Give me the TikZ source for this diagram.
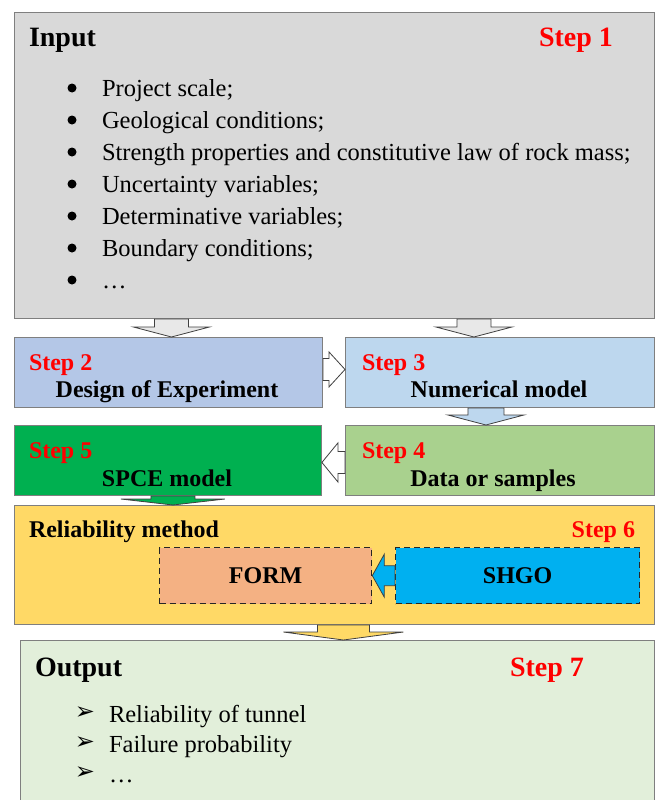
\documentclass[tikz,border=0pt]{standalone}
\usepackage{fontspec}
\setmainfont{Liberation Serif}
\newfontfamily\symfont{DejaVu Sans}
\usetikzlibrary{calc}
\definecolor{inputc}{HTML}{D9D9D9}
\definecolor{stepb}{HTML}{B4C7E7}
\definecolor{stepc}{HTML}{BDD7EE}
\definecolor{stepd}{HTML}{A9D18E}
\definecolor{stepe}{HTML}{00B050}
\definecolor{relc}{HTML}{FFD966}
\definecolor{formc}{HTML}{F4B183}
\definecolor{shgoc}{HTML}{00B0F0}
\definecolor{outc}{HTML}{E2EFDA}
\definecolor{stepred}{HTML}{FF0000}
\definecolor{boxline}{HTML}{7F7F7F}
\definecolor{arrline}{HTML}{404040}
\newcommand\fbig{\fontsize{28pt}{34pt}\selectfont\bfseries}
\newcommand\fmid{\fontsize{24pt}{30pt}\selectfont\bfseries}
\newcommand\fbody{\fontsize{24.5pt}{30pt}\selectfont}
% block arrow: fill, start, end, shaft half width, head half width, head length
\newcommand\blockarrow[6]{%
  \coordinate (ba1) at (#2);
  \coordinate (ba2) at (#3);
  \coordinate (bah) at ($(ba2)!#6!(ba1)$);
  \draw[barrow,fill=#1] ($(ba1)!#4!90:(ba2)$) -- ($(bah)!#4!90:(ba2)$)
    -- ($(bah)!#5!90:(ba2)$) -- (ba2) -- ($(bah)!#5!-90:(ba2)$)
    -- ($(bah)!#4!-90:(ba2)$) -- ($(ba1)!#4!-90:(ba2)$) -- cycle;}
\begin{document}
\begin{tikzpicture}[x=1pt,y=-1pt,
  box/.style={draw=boxline, line width=0.9pt, anchor=north west, inner sep=0pt},
  dbox/.style={draw=black!85, line width=1.3pt, dash pattern=on 6pt off 4pt, anchor=north west, inner sep=0pt},
  barrow/.style={draw=arrline, line width=0.8pt, line join=miter},
  txt/.style={inner sep=0pt, outer sep=0pt},
  dot/.style={circle, fill=black, inner sep=0pt, minimum size=9pt},
  redlab/.style={txt, text=stepred, font=\fmid, anchor=base west}]
\fill[white] (0,0) rectangle (655,800);
\clip (0,0) rectangle (655,800);
% boxes
\node[box, fill=inputc, minimum width=640pt, minimum height=306pt] (in) at (14,12) {};
\node[box, fill=stepb, minimum width=308pt, minimum height=70pt] (s2) at (14,337) {};
\node[box, fill=stepc, minimum width=309pt, minimum height=70pt] (s3) at (345,337) {};
\node[box, fill=stepe, minimum width=307pt, minimum height=70pt] (s5) at (14,425) {};
\node[box, fill=stepd, minimum width=309pt, minimum height=70pt] (s4) at (345,425) {};
\node[box, fill=relc, minimum width=640pt, minimum height=119pt] (rel) at (14,505) {};
\node[dbox, fill=formc, minimum width=212pt, minimum height=56pt] (form) at (159,547) {};
\node[dbox, fill=shgoc, minimum width=244pt, minimum height=56pt] (shgo) at (395,547) {};
\node[box, fill=outc, minimum width=634pt, minimum height=180pt] (out) at (20,640) {};
% input texts
\node[txt, font=\fbig, anchor=base west] (intitle) at (29,47) {Input};
\node[txt, text=stepred, font=\fbig, anchor=base west] (st1) at (539,47) {Step 1};
\foreach \t [count=\i] in {{Project scale;},{Geological conditions;},{Strength properties and constitutive law of rock mass;},{Uncertainty variables;},{Determinative variables;},{Boundary conditions;},{\dots}} {
  \node[dot] (bul\i) at (72,{56+32*\i}) {};
  \node[txt, font=\fbody, anchor=base west] (it\i) at (102,{64+32*\i}) {\t};
}
% step boxes texts
\node[redlab] (st2) at (29,370) {Step 2};
\node[txt, font=\fmid, anchor=base] (doe) at (167,397) {Design of Experiment};
\node[redlab] (st3) at (362,370) {Step 3};
\node[txt, font=\fmid, anchor=base] (num) at (499,397) {Numerical model};
\node[redlab] (st5) at (29,458) {Step 5};
\node[txt, font=\fmid, anchor=base] (spce) at (167,486) {SPCE model};
\node[redlab] (st4) at (362,458) {Step 4};
\node[txt, font=\fmid, anchor=base] (dat) at (493,486) {Data or samples};
% reliability
\node[txt, font=\fmid, anchor=base west] (relt) at (29,537) {Reliability method};
\node[txt, text=stepred, font=\fmid, anchor=base east] (st6) at (635,537) {Step 6};
\node[txt, font=\fmid] (formt) at (form.center) {FORM};
\node[txt, font=\fmid] (shgot) at (shgo.center) {SHGO};
% output
\node[txt, font=\fbig, anchor=base west] (outt) at (35,676) {Output};
\node[txt, text=stepred, font=\fbig, anchor=base west] (st7) at (510,676) {Step 7};
\foreach \t [count=\i] in {{Reliability of tunnel},{Failure probability},{\dots}} {
  \node[txt, font=\symfont\fontsize{24pt}{26pt}\selectfont] (ab\i) at (85,{683+30*\i}) {➢};
  \node[txt, font=\fbody, anchor=base west] (ot\i) at (109,{692+30*\i}) {\t};
}
% block arrows
\coordinate (a1e) at ($(s2.north)+(3pt,0)$);
\blockarrow{inputc!60!white}{a1e |- in.south}{a1e}{17pt}{38pt}{10pt}
\coordinate (a2e) at ($(s3.north)+(-26pt,0)$);
\blockarrow{inputc!60!white}{a2e |- in.south}{a2e}{17pt}{38pt}{10pt}
\coordinate (a3s) at ($(s2.east)+(0,3pt)$);
\blockarrow{white}{a3s}{a3s -| s3.west}{11pt}{17.5pt}{16pt}
\coordinate (a4e) at ($(s4.north)+(-14pt,0)$);
\blockarrow{stepc}{a4e |- s3.south}{a4e}{18pt}{38pt}{10pt}
\coordinate (a5s) at ($(s4.west)+(0,-2pt)$);
\blockarrow{white}{a5s}{a5s -| s5.east}{11pt}{19.5pt}{16pt}
\coordinate (a6e) at ($(rel.north -| s5.north)+(5pt,0)$);
\blockarrow{stepe}{a6e |- s5.south}{a6e}{22pt}{52pt}{6pt}
\blockarrow{shgoc}{shgo.west}{form.east}{10pt}{21.5pt}{12pt}
\coordinate (a8e) at ($(out.north)+(6pt,0)$);
\blockarrow{relc}{a8e |- rel.south}{a8e}{26pt}{60pt}{8pt}
\end{tikzpicture}
\end{document}
